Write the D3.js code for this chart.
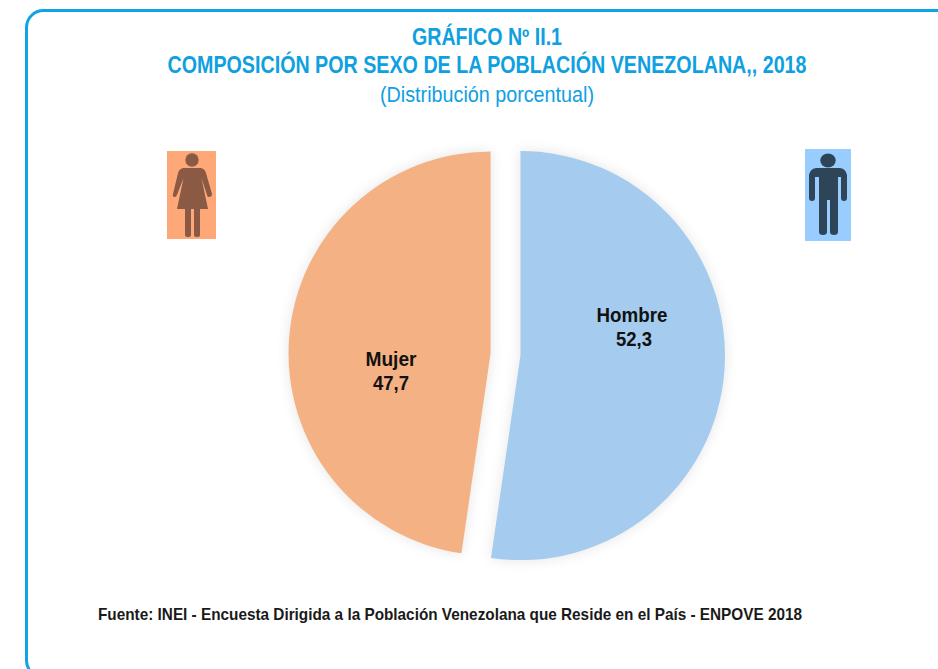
<!DOCTYPE html>
<html><head><meta charset="utf-8">
<script src="https://cdn.jsdelivr.net/npm/d3@7/dist/d3.min.js"></script>
<style>html,body{margin:0;padding:0;background:#fff;overflow:hidden}svg{display:block}
text{font-family:"Liberation Sans",Arial,sans-serif}</style></head><body>
<div id="chart"></div>
<script>
const categories = ["Hombre","Mujer"];
const values = [52.3,47.7];
const valueLabels = ["52,3","47,7"];
const sliceColors = ["#a5cbef","#f4b183"];
const titleLines = ["GRÁFICO Nº II.1","COMPOSICIÓN POR SEXO DE LA POBLACIÓN VENEZOLANA,, 2018","(Distribución porcentual)"];
const sourceText = "Fuente: INEI - Encuesta Dirigida a la Población Venezolana que Reside en el País - ENPOVE 2018";

const W=938,H=669;
const svg=d3.select("#chart").append("svg").attr("width",W).attr("height",H);
const defs=svg.append("defs");
const bl=defs.append("filter").attr("id","sh").attr("x","-20%").attr("y","-20%").attr("width","140%").attr("height","140%");
bl.append("feGaussianBlur").attr("stdDeviation",7);
const ib=defs.append("filter").attr("id","ib");
ib.append("feGaussianBlur").attr("stdDeviation",0.7);

svg.append("rect").attr("x",26.5).attr("y",10.5).attr("width",1000).attr("height",667).attr("rx",17)
  .attr("fill","none").attr("stroke","#0fa5e4").attr("stroke-width",3);

// titles
const titleSpec=[{y:45,s:23,w:"bold",len:150},{y:73,s:23,w:"bold",len:639},{y:102,s:22,w:"normal",len:214}];
titleSpec.forEach((t,i)=>{
  svg.append("text").attr("x",487).attr("y",t.y).attr("text-anchor","middle")
   .attr("font-size",t.s).attr("font-weight",t.w).attr("fill","#0ea0df")
   .attr("textLength",t.len).attr("lengthAdjust","spacingAndGlyphs").text(titleLines[i]);
});

// pie
const cx=505.5,cy=354.5,explode=15;
const radii=[204.5,202];
const pie=d3.pie().sort(null)(values);
const arc=d3.arc().innerRadius(0).outerRadius((d)=>radii[d.index]);
const g=svg.append("g").attr("transform",`translate(${cx},${cy})`);
const off=d=>{const a=(d.startAngle+d.endAngle)/2;return [Math.sin(a)*explode,-Math.cos(a)*explode];};
g.selectAll("path.s").data(pie).join("path").attr("class","s").attr("d",arc)
  .attr("transform",d=>`translate(${off(d)})`).attr("fill","#000").attr("opacity",0.10).attr("filter","url(#sh)");
g.selectAll("path.m").data(pie).join("path").attr("class","m").attr("d",arc)
  .attr("transform",d=>`translate(${off(d)})`).attr("fill",(d,i)=>sliceColors[i]);

// labels
const labelPos=[[632,322],[391,366]];
categories.forEach((c,i)=>{
  const [x,y]=labelPos[i];
  svg.append("text").attr("x",x).attr("y",y).attr("text-anchor","middle").attr("font-size",20).attr("font-weight","bold")
    .attr("fill","#111").attr("textLength",i==0?71:51).attr("lengthAdjust","spacingAndGlyphs").text(c);
  svg.append("text").attr("x",i==0?x+2:x).attr("y",y+24).attr("text-anchor","middle").attr("font-size",20).attr("font-weight","bold")
    .attr("fill","#111").attr("textLength",36).attr("lengthAdjust","spacingAndGlyphs").text(valueLabels[i]);
});

// source
svg.append("text").attr("x",98).attr("y",620).attr("font-size",17).attr("font-weight","bold").attr("fill","#1a1a1a")
  .attr("textLength",704).attr("lengthAdjust","spacingAndGlyphs").text(sourceText);

// woman icon
const wg=svg.append("g");
wg.append("rect").attr("x",167).attr("y",151).attr("width",49).attr("height",88).attr("fill","#ffa877");
const w=wg.append("g").attr("fill","#8a5a44").attr("filter","url(#ib)");
w.append("circle").attr("cx",192).attr("cy",160).attr("r",6.7);
w.append("path").attr("d","M183,168 L201,168 Q205,169 206,173 L212,194 Q212,197 209,197 Q207,197 207,195 L201.5,178 L208,209 L177,209 L183.5,178 L177,195 Q176,197 175,197 Q172,197 173,194 L178,173 Q179,169 183,168Z");
w.append("rect").attr("x",185).attr("y",207).attr("width",6).attr("height",30).attr("rx",2);
w.append("rect").attr("x",194).attr("y",207).attr("width",6).attr("height",30).attr("rx",2);

// man icon
const mg=svg.append("g");
mg.append("rect").attr("x",805).attr("y",149).attr("width",46).attr("height",92).attr("fill","#99ccff");
const m=mg.append("g").attr("fill","#2f4558").attr("filter","url(#ib)");
m.append("ellipse").attr("cx",828).attr("cy",160.5).attr("rx",7.7).attr("ry",7);
m.append("path").attr("d","M816,168 L840,168 Q846,169 847,175 L847,198 Q847,201 844,201 Q841,201 841,198 L841,177 L838,177 L838,232 Q838,235 834,235 Q830,235 830,232 L830,200 L827,200 L827,232 Q827,235 823,235 Q819,235 819,232 L819,177 L815,177 L815,198 Q815,201 812,201 Q809,201 809,198 L809,175 Q810,169 816,168Z");
</script></body></html>
